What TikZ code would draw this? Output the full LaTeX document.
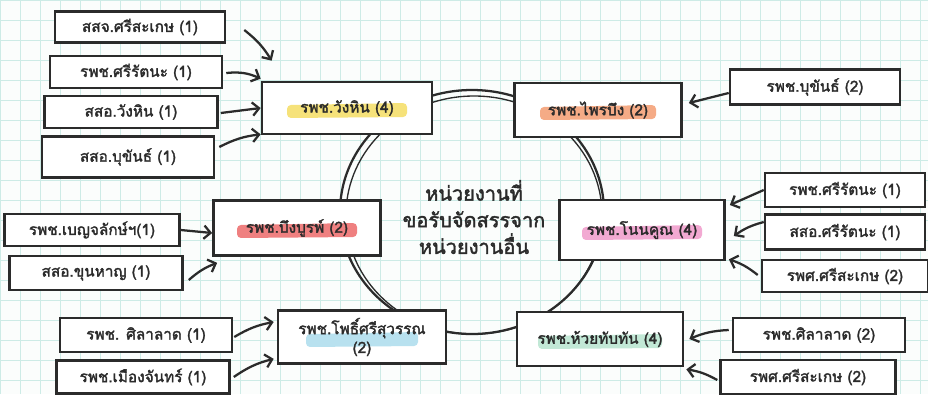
\documentclass[tikz,border=0pt]{standalone}
\usepackage{fontspec}
\newfontfamily\thaifont[Script=Thai,AutoFakeBold=2]{Loma}
\usetikzlibrary{arrows.meta}
\definecolor{paper}{HTML}{FBFDFC}
\definecolor{gridc}{HTML}{CDEBE6}
\definecolor{ink}{HTML}{2B2B2B}
\definecolor{hlyellow}{HTML}{F6E27A}
\definecolor{hlorange}{HTML}{F5AB86}
\definecolor{hlred}{HTML}{EF8080}
\definecolor{hlpink}{HTML}{F2A9D2}
\definecolor{hlblue}{HTML}{B8E1EF}
\definecolor{hlgreen}{HTML}{C2E8D6}
\tikzset{
    leaf/.style={draw=ink,fill=white,line width=1.9pt,text=ink,font=\thaifont\bfseries\fontsize{11.5}{14}\selectfont,inner sep=2pt},
    hub/.style={draw=ink,fill=white,line width=2pt,text=ink,font=\thaifont\bfseries\fontsize{11.5}{14}\selectfont,align=center,inner sep=2pt},
    hl/.style 2 args={path picture={\fill[#1,rounded corners=3pt]
        ([shift={(-#2,-3)}]path picture bounding box.center) --
        ([shift={(#2,-5)}]path picture bounding box.center) --
        ([shift={(#2,9)}]path picture bounding box.center) --
        ([shift={(-#2,10)}]path picture bounding box.center) -- cycle;}},
    sz/.style 2 args={minimum width=#1*0.75pt,minimum height=#2*0.75pt},
    arr/.style={->,> = {Straight Barb[length=5pt,width=10pt]},line width=1.7pt,draw=ink},
    ring/.style={draw=ink,line width=1.7pt},
    gridline/.style={draw=gridc,line width=0.6pt},
}
\begin{document}
\begin{tikzpicture}[x=0.75pt,y=-0.75pt]
    \fill[paper] (0,0) rectangle (928,394);
    \useasboundingbox (0,0) rectangle (928,394);
    \draw[gridline,step=15pt] (0,0) grid (928,394);
    % the loop behind the six hubs
    \draw[ring] (472,212) ellipse [x radius=132, y radius=122];
    \draw[ring,line width=1pt] (474,215) ellipse [x radius=128, y radius=119];
    % hubs
    \node[hub,sz={170}{52},hl={hlyellow}{60}] (wh) at (347,108) {รพช.วังหิน (4)};
    \node[hub,sz={167}{54},hl={hlorange}{58}] (pb) at (598,110) {รพช.ไพรบึง (2)};
    \node[hub,sz={167}{55},hl={hlred}{60}] (bb) at (297,228) {รพช.บึงบูรพ์ (2)};
    \node[hub,sz={165}{60},hl={hlpink}{60}] (nk) at (642,230) {รพช.โนนคูณ (4)};
    \node[hub,sz={168}{53},hl={hlblue}{56}] (ps) at (362,337) {รพช.โพธิ์ศรีสุวรรณ\\(2)};
    \node[hub,sz={166}{54},hl={hlgreen}{62}] (ht) at (600,339) {รพช.ห้วยทับทัน (4)};
    \node[text=ink,font=\thaifont\bfseries\fontsize{15}{20}\selectfont,align=center] (mid) at (474,217) {หน่วยงานที่\\ขอรับจัดสรรจาก\\หน่วยงานอื่น};
    % senders
    \node[leaf,sz={170}{31}] (ssj) at (140,27) {สสจ.ศรีสะเกษ (1)};
    \node[leaf,sz={172}{32}] (srt) at (136,72) {รพช.ศรีรัตนะ (1)};
    \node[leaf,sz={173}{32}] (swh) at (131,112) {สสอ.วังหิน (1)};
    \node[leaf,sz={172}{41}] (sbk) at (128,157) {สสอ.บุขันธ์ (1)};
    \node[leaf,sz={170}{35}] (bk) at (815,87) {รพช.บุขันธ์ (2)};
    \node[leaf,sz={175}{32}] (bj) at (92,230) {รพช.เบญจลักษ์ฯ(1)};
    \node[leaf,sz={173}{34}] (kh) at (96,273) {สสอ.ขุนหาญ (1)};
    \node[leaf,sz={160}{34}] (srt2) at (845,190) {รพช.ศรีรัตนะ (1)};
    \node[leaf,sz={160}{35}] (ssrt) at (845,232) {สสอ.ศรีรัตนะ (1)};
    \node[leaf,sz={166}{32}] (rps) at (845,276) {รพศ.ศรีสะเกษ (2)};
    \node[leaf,sz={172}{34}] (sl) at (146,335) {รพช. ศิลาลาด (1)};
    \node[leaf,sz={173}{33}] (mj) at (143,377) {รพช.เมืองจันทร์ (1)};
    \node[leaf,sz={172}{34}] (sl2) at (819,335) {รพช.ศิลาลาด (2)};
    \node[leaf,sz={175}{34}] (rps2) at (808,377) {รพศ.ศรีสะเกษ (2)};
    % arrows into the hubs
    \draw[arr] ([shift={(18,3)}]ssj.east) to[bend left=10] ([shift={(11,-20)}]wh.north west);
    \draw[arr] ([shift={(3,1)}]srt.east) to[bend left=15] ([shift={(0,-2)}]wh.north west);
    \draw[arr] ([shift={(2,1)}]swh.east) to ([shift={(0,0)}]wh.west);
    \draw[arr] ([shift={(4,-10)}]sbk.east) to[bend left=10] ([shift={(0,-1)}]wh.south west);
    \draw[arr] ([shift={(0,6)}]bk.west) to ([shift={(6,-7)}]pb.east);
    \draw[arr] (bj.east) to ([shift={(0,5)}]bb.west);
    \draw[arr] ([shift={(5,7)}]kh.east) to[bend left=10] ([shift={(5,6)}]bb.south west);
    \draw[arr] (srt2.west) to ([shift={(4,-25)}]nk.east);
    \draw[arr] ([shift={(0,-10)}]ssrt.west) to[bend right=10] ([shift={(8,6)}]nk.east);
    \draw[arr] ([shift={(-3,-1)}]rps.west) to[bend right=10] ([shift={(3,-2)}]nk.south east);
    \draw[arr] ([shift={(1,2)}]sl.east) to[bend left=10] ([shift={(-3,-15)}]ps.west);
    \draw[arr] ([shift={(3,0)}]mj.east) to[bend left=10] ([shift={(-3,-6)}]ps.south west);
    \draw[arr] ([shift={(-3,-5)}]sl2.west) to[bend right=10] ([shift={(5,0)}]ht.east);
    \draw[arr] ([shift={(-2,3)}]rps2.west) to[bend right=10] ([shift={(2,2)}]ht.south east);
\end{tikzpicture}
\end{document}
